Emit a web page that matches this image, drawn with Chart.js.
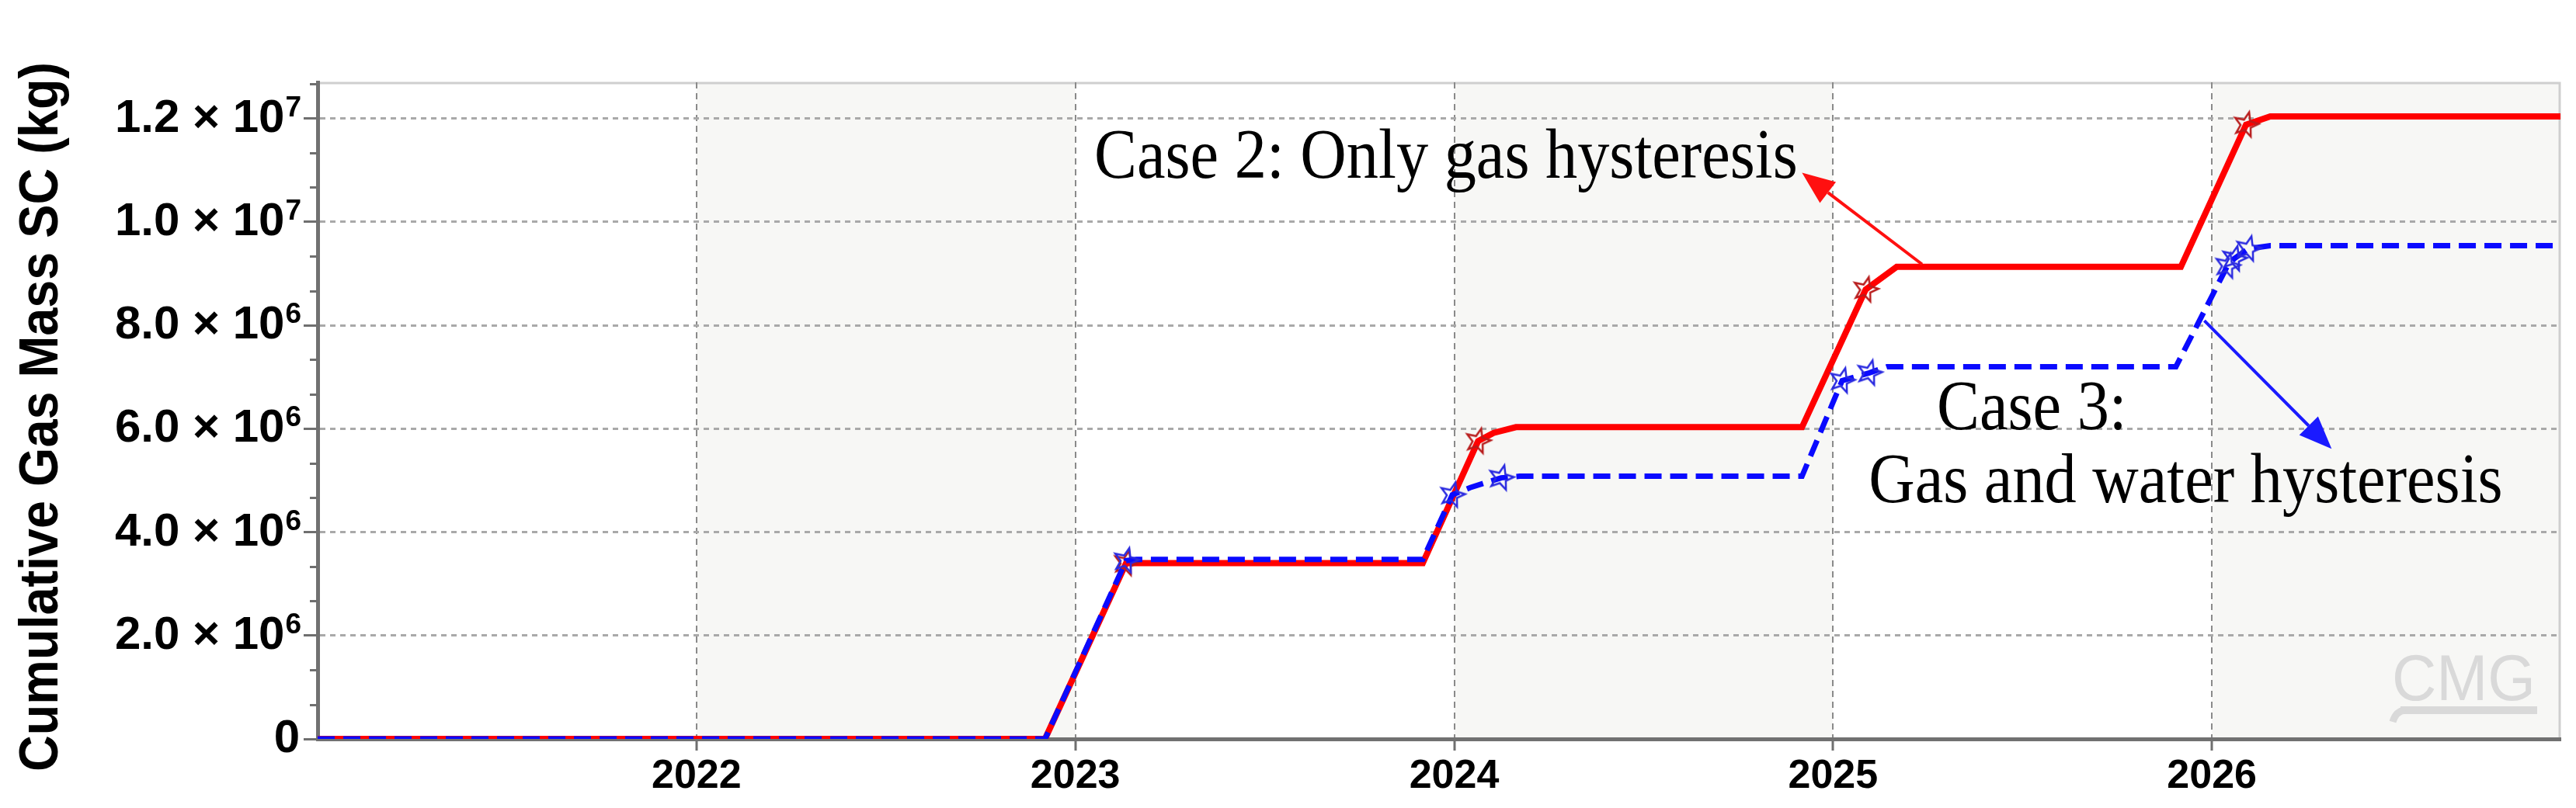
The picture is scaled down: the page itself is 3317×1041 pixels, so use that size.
<!DOCTYPE html>
<html>
<head>
<meta charset="utf-8">
<script src="https://cdn.jsdelivr.net/npm/chart.js@4.4.1/dist/chart.umd.min.js"></script>
<style>
  html, body { margin: 0; padding: 0; background: #fff; }
  canvas { display: block; }
</style>
</head>
<body>
<canvas id="chart" width="3317" height="1041"></canvas>
<script>
// Case 2: only gas hysteresis (red, solid)
const case2Years = [2021.0, 2022.92, 2023.134, 2023.161, 2023.917, 2024.063, 2024.104, 2024.163, 2024.918, 2025.086, 2025.168, 2025.918, 2026.09, 2026.154, 2026.92];
const case2Mass  = [0, 0, 3.40e6, 3.40e6, 3.40e6, 5.76e6, 5.92e6, 6.03e6, 6.03e6, 8.69e6, 9.13e6, 9.13e6, 11.88e6, 12.04e6, 12.04e6];
const case2Star  = [0, 0, 1, 0, 0, 1, 0, 0, 0, 1, 0, 0, 1, 0, 0];

// Case 3: gas and water hysteresis (blue, dashed)
const case3Years = [2021.0, 2022.92, 2023.134, 2023.161, 2023.917, 2023.995, 2024.042, 2024.124, 2024.173, 2024.918, 2025.024, 2025.096, 2025.143, 2025.905, 2026.041, 2026.059, 2026.096, 2026.154, 2026.92];
const case3Mass  = [0, 0, 3.45e6, 3.47e6, 3.47e6, 4.72e6, 4.86e6, 5.05e6, 5.08e6, 5.08e6, 6.93e6, 7.08e6, 7.20e6, 7.20e6, 9.15e6, 9.29e6, 9.48e6, 9.54e6, 9.54e6];
const case3Star  = [0, 0, 1, 0, 0, 1, 0, 1, 0, 0, 1, 1, 0, 0, 1, 1, 1, 0, 0];

const yearTicks = [2022, 2023, 2024, 2025, 2026];
const massTicks = [0, 2e6, 4e6, 6e6, 8e6, 1e7, 1.2e7];
const xRange = [2021, 2026.92];
const yRange = [0, 1.27e7];

const yTitle = 'Cumulative Gas Mass SC (kg)';

// annotation anchors in data units (year, kg)
const notes = {
  case2: { text: 'Case 2: Only gas hysteresis', at: [2023.05, 10.86e6] },
  case3a: { text: 'Case 3:', at: [2025.274, 5.985e6] },
  case3b: { text: 'Gas and water hysteresis', at: [2025.094, 4.575e6] },
  arrow2: { from: [2025.235, 9.18e6], to: [2024.918, 10.95e6], color: '#ff1010' },
  arrow3: { from: [2025.98, 8.09e6], to: [2026.316, 5.61e6], color: '#1a1aff' }
};

const SANS = '"Liberation Sans", Arial, sans-serif';
const SERIF = '"Liberation Serif", "Times New Roman", serif';

function makeStar(color) {
  const c = document.createElement('canvas');
  c.width = 40; c.height = 40;
  const g = c.getContext('2d');
  g.strokeStyle = color;
  g.lineWidth = 2.5;
  g.beginPath();
  for (let i = 0; i < 10; i++) {
    const r = i % 2 ? 7 : 16.5;
    const a = -Math.PI / 2 + i * Math.PI / 5 + 0.25;
    const px = 20 + r * Math.cos(a), py = 20 + r * Math.sin(a);
    if (i) g.lineTo(px, py); else g.moveTo(px, py);
  }
  g.closePath();
  g.stroke();
  return c;
}

const toPoints = (xs, ys) => xs.map((x, i) => ({ x, y: ys[i] }));

function drawArrow(ctx, x1, y1, x2, y2, color) {
  const ang = Math.atan2(y2 - y1, x2 - x1);
  const head = 42, half = 17;
  const bx = x2 - head * Math.cos(ang), by = y2 - head * Math.sin(ang);
  ctx.save();
  ctx.strokeStyle = color;
  ctx.fillStyle = color;
  ctx.lineWidth = 4;
  ctx.beginPath();
  ctx.moveTo(x1, y1);
  ctx.lineTo(bx, by);
  ctx.stroke();
  ctx.beginPath();
  ctx.moveTo(x2, y2);
  ctx.lineTo(bx + half * Math.sin(ang), by - half * Math.cos(ang));
  ctx.lineTo(bx - half * Math.sin(ang), by + half * Math.cos(ang));
  ctx.closePath();
  ctx.fill();
  ctx.restore();
}

const decorPlugin = {
  id: 'decor',
  beforeDraw(chart) {
    const { ctx, chartArea: a, scales: { x } } = chart;
    ctx.save();
    ctx.fillStyle = '#ffffff';
    ctx.fillRect(0, 0, chart.width, chart.height);
    for (let k = 2021; k < 2027; k++) {
      const l = Math.max(a.left, x.getPixelForValue(k));
      const r = Math.min(a.right, x.getPixelForValue(k + 1));
      ctx.fillStyle = (k - 2022) % 2 === 0 ? '#f7f7f5' : '#ffffff';
      ctx.fillRect(l, a.top, r - l, a.bottom - a.top);
    }
    // light frame top / right
    ctx.strokeStyle = '#cfcfcf';
    ctx.lineWidth = 3;
    ctx.beginPath();
    ctx.moveTo(a.left, a.top + 1);
    ctx.lineTo(a.right - 1, a.top + 1);
    ctx.lineTo(a.right - 1, a.bottom);
    ctx.stroke();
    ctx.restore();
  },
  beforeDatasetsDraw(chart) {
    const { ctx, chartArea: a } = chart;
    // CMG watermark
    ctx.save();
    ctx.fillStyle = '#d9d9d9';
    ctx.strokeStyle = '#d9d9d9';
    ctx.font = '84px ' + SANS;
    ctx.textBaseline = 'alphabetic';
    ctx.textAlign = 'left';
    const w = ctx.measureText('CMG').width;
    ctx.save();
    ctx.translate(a.right - 217, a.bottom - 50);
    ctx.scale(185 / w, 1);
    ctx.fillText('CMG', 0, 0);
    ctx.restore();
    ctx.fillRect(a.right - 206, a.bottom - 42, 176, 10);
    ctx.lineWidth = 9;
    ctx.beginPath();
    ctx.moveTo(a.right - 200, a.bottom - 37);
    ctx.quadraticCurveTo(a.right - 212, a.bottom - 36, a.right - 216, a.bottom - 22);
    ctx.stroke();
    ctx.restore();
  },
  afterDatasetsDraw(chart) {
    const { ctx, scales: { x, y } } = chart;
    const px = p => [x.getPixelForValue(p[0]), y.getPixelForValue(p[1])];
    ctx.save();
    ctx.fillStyle = '#000';
    ctx.font = '90px ' + SERIF;
    ctx.textAlign = 'left';
    ctx.textBaseline = 'alphabetic';
    [notes.case2, notes.case3a, notes.case3b].forEach(n => {
      const [tx, ty] = px(n.at);
      ctx.save();
      ctx.translate(tx, ty);
      ctx.scale(0.915, 1);
      ctx.fillText(n.text, 0, 0);
      ctx.restore();
    });
    ctx.restore();
    [notes.arrow2, notes.arrow3].forEach(ar => {
      const [x1, y1] = px(ar.from);
      const [x2, y2] = px(ar.to);
      drawArrow(ctx, x1, y1, x2, y2, ar.color);
    });
  },
  afterDraw(chart) {
    const { ctx, chartArea: a, scales: { y } } = chart;
    ctx.save();
    // minor ticks on the y axis
    ctx.strokeStyle = '#6f6f6f';
    ctx.lineWidth = 3;
    const step = (massTicks[1] - massTicks[0]) / 3;
    for (let v = step; v < yRange[1]; v += step) {
      if (Math.abs(v / massTicks[1] - Math.round(v / massTicks[1])) < 1e-6) continue;
      const py = Math.round(y.getPixelForValue(v)) + 0.5;
      ctx.beginPath();
      ctx.moveTo(a.left - 10, py);
      ctx.lineTo(a.left, py);
      ctx.stroke();
    }
    // y tick labels in scientific notation
    ctx.fillStyle = '#000';
    ctx.textBaseline = 'alphabetic';
    const right = a.left - 21;
    massTicks.forEach(v => {
      const py = y.getPixelForValue(v) + 17;
      if (v === 0) {
        ctx.font = 'bold 60px ' + SANS;
        ctx.textAlign = 'right';
        ctx.fillText('0', right - 2, py);
        return;
      }
      const e = Math.floor(Math.log10(v) + 1e-9);
      const m = (v / Math.pow(10, e)).toFixed(1);
      ctx.font = 'bold 37px ' + SANS;
      const ew = ctx.measureText(String(e)).width;
      ctx.textAlign = 'left';
      ctx.fillText(String(e), right - ew, py - 20);
      ctx.font = 'bold 60px ' + SANS;
      ctx.textAlign = 'right';
      ctx.fillText(m + ' \u00d7 10', right - ew - 1, py);
    });
    // rotated axis title
    ctx.font = 'bold 70px ' + SANS;
    const tw = ctx.measureText(yTitle).width;
    ctx.translate(74, (a.top + a.bottom) / 2 + 8);
    ctx.rotate(-Math.PI / 2);
    ctx.scale(914 / tw, 1);
    ctx.textAlign = 'center';
    ctx.fillText(yTitle, 0, 0);
    ctx.restore();
  }
};

new Chart(document.getElementById('chart'), {
  type: 'line',
  data: {
    datasets: [
      {
        label: 'Case 3: Gas and water hysteresis',
        data: toPoints(case3Years, case3Mass),
        borderColor: '#0a0aff',
        borderWidth: 7,
        borderDash: [22, 11],
        borderCapStyle: 'butt',
        tension: 0,
        fill: false,
        pointStyle: makeStar('#2a2ae0'),
        pointRadius: case3Star.map(s => (s ? 16 : 0)),
        pointHoverRadius: 0
      },
      {
        label: 'Case 2: Only gas hysteresis',
        data: toPoints(case2Years, case2Mass),
        borderColor: '#ff0000',
        borderWidth: 8,
        tension: 0,
        fill: false,
        pointStyle: makeStar('#b81c1c'),
        pointRadius: case2Star.map(s => (s ? 16 : 0)),
        pointHoverRadius: 0
      }
    ]
  },
  options: {
    responsive: false,
    animation: false,
    devicePixelRatio: 1,
    layout: { padding: { top: 106, right: 20, left: 0, bottom: 0 } },
    plugins: { legend: { display: false }, tooltip: { enabled: false } },
    scales: {
      x: {
        type: 'linear',
        min: xRange[0],
        max: xRange[1],
        afterBuildTicks: s => { s.ticks = yearTicks.map(v => ({ value: v })); },
        afterFit: s => { s.height = 89; },
        ticks: {
          autoSkip: false,
          maxRotation: 0,
          padding: 2,
          color: '#000',
          font: { family: SANS, size: 52, weight: 'bold' },
          callback: v => String(v)
        },
        grid: { color: '#8a8a8a', lineWidth: 2, tickLength: 15, tickColor: '#6f6f6f', tickWidth: 3 },
        border: { color: '#717171', width: 5, dash: [8, 6] }
      },
      y: {
        type: 'linear',
        min: yRange[0],
        max: yRange[1],
        afterBuildTicks: s => { s.ticks = massTicks.map(v => ({ value: v })); },
        afterFit: s => { s.width = 409; },
        ticks: { display: false },
        grid: {
          color: c => (c.tick && c.tick.value === 0 ? 'rgba(0,0,0,0)' : '#a9a9a9'),
          lineWidth: 3,
          tickLength: 18,
          tickColor: '#6f6f6f',
          tickWidth: 3
        },
        border: { color: '#717171', width: 5, dash: [7, 6] }
      }
    }
  },
  plugins: [decorPlugin]
});
</script>
</body>
</html>
